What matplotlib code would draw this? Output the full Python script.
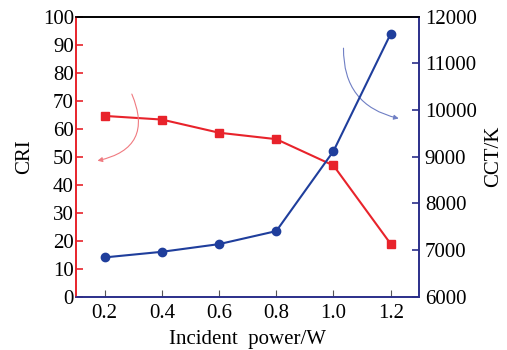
import matplotlib
matplotlib.use("Agg")
import matplotlib.pyplot as plt

power = [0.2, 0.4, 0.6, 0.8, 1.0, 1.2]
cri = [64.6, 63.3, 58.6, 56.3, 46.9, 18.9]
cct = [6844, 6964, 7129, 7408, 9122, 11636]
x_ticks = [0.2, 0.4, 0.6, 0.8, 1.0, 1.2]
x_labels = ["0.2", "0.4", "0.6", "0.8", "1.0", "1.2"]

plt.rcParams['font.family'] = ['Liberation Serif', 'DejaVu Serif']

red = '#e8232b'
blue = '#1f3e9c'
navy = '#2b2f8a'

fig = plt.figure(figsize=(5.07, 3.5), dpi=100)
ax = fig.add_axes([0.15, 0.152, 0.677, 0.8])
ax2 = ax.twinx()

ax.plot(power, cri, color=red, lw=1.5, marker='s', ms=5.5, zorder=3)
ax2.plot(power, cct, color=blue, lw=1.5, marker='o', ms=6, zorder=3)

ax.set_xlim(0.1, 1.3)
ax.set_ylim(0, 100)
ax2.set_ylim(6000, 12000)
ax.set_yticks(range(0, 101, 10))
ax2.set_yticks(range(6000, 12001, 1000))
ax.set_xticks(x_ticks)
ax.set_xticklabels(x_labels)

fs = 15
ax.tick_params(axis='x', direction='in', length=5, color='#555555', labelsize=fs, pad=5)
ax.tick_params(axis='y', direction='in', length=5, color=red, labelsize=fs, width=1.2, pad=1.5)
ax2.tick_params(axis='y', direction='in', length=5, color=navy, labelsize=fs, width=1.2, pad=4)

for a in (ax, ax2):
    for s in a.spines.values():
        s.set_linewidth(1.2)
for a in (ax, ax2):
    a.spines['left'].set_color(red)
    a.spines['right'].set_color(navy)
    a.spines['top'].set_color('black')
    a.spines['bottom'].set_color(navy)

ax.set_xlabel("Incident  power/W", fontsize=fs, labelpad=5)
ax.set_ylabel("CRI", fontsize=fs, labelpad=6)
ax2.set_ylabel("CCT/K", fontsize=fs, labelpad=5)

ax.annotate("", xy=(0.175, 48.6), xytext=(0.295, 72.4),
            arrowprops=dict(arrowstyle='-|>', color='#f07a80', lw=0.8,
                            mutation_scale=7, connectionstyle='arc3,rad=-0.6',
                            shrinkA=0, shrinkB=0))
ax.annotate("", xy=(1.228, 63.7), xytext=(1.035, 88.8),
            arrowprops=dict(arrowstyle='-|>', color='#6f7fc4', lw=0.8,
                            mutation_scale=7, connectionstyle='arc3,rad=0.4',
                            shrinkA=0, shrinkB=0))

fig.savefig("out.png", dpi=100)
